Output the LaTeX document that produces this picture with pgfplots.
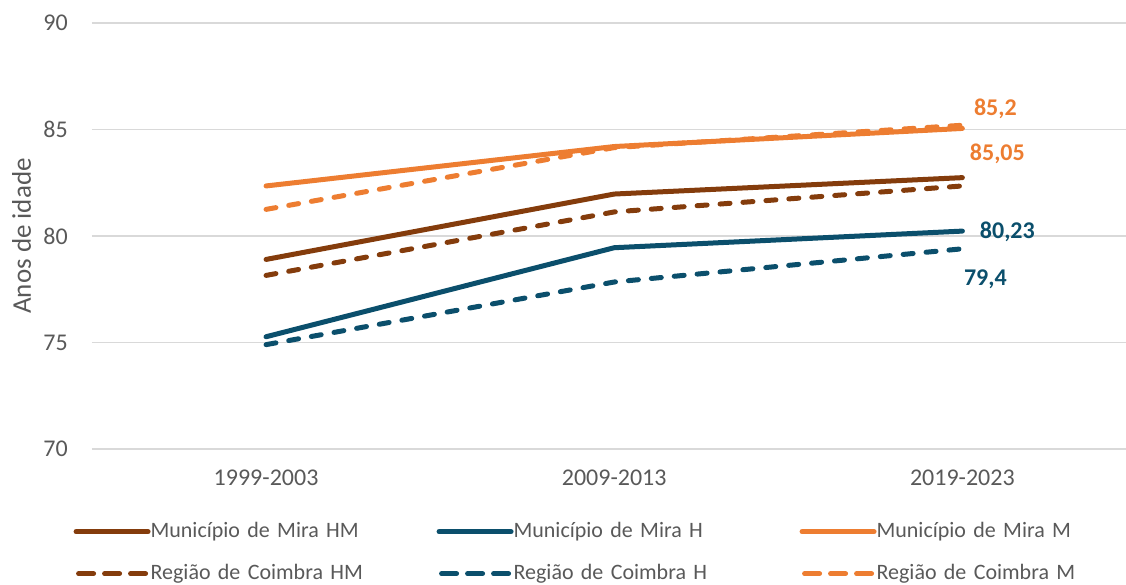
\documentclass[border=0pt]{standalone}
\usepackage{pgfplots}
\pgfplotsset{compat=1.18}
\usepackage{fontspec}
\setmainfont{Carlito}
\definecolor{cbrown}{RGB}{132,60,12}
\definecolor{cteal}{RGB}{11,79,108}
\definecolor{corange}{RGB}{237,125,49}
\definecolor{ctext}{RGB}{89,89,89}
\definecolor{cgrid}{RGB}{217,217,217}
\begin{document}
\begin{tikzpicture}[x=1pt,y=1pt]
\useasboundingbox (0,0) rectangle (1126,584);
\begin{axis}[
  at={(92pt,135pt)}, anchor=south west,
  scale only axis, width=1034pt, height=426pt,
  font=\fontsize{24}{28}\selectfont,
  /pgf/number format/assume math mode=true,
  xmin=-0.5, xmax=2.47, ymin=70, ymax=90,
  xtick={0,1,2}, xticklabels={1999-2003,2009-2013,2019-2023},
  ytick={70,75,80,85,90},
  axis line style={draw=none},
  major tick length=0pt,
  ymajorgrids, grid style={cgrid, line width=1.5pt},
  tick label style={ctext, inner sep=0pt},
  yticklabel style={anchor=east, xshift=-24pt},
  xticklabel style={anchor=north, yshift=-21pt},
  ylabel={Anos de idade},
  ylabel style={at={(axis description cs:-0.068,0.5)}, anchor=center, ctext, font=\fontsize{27}{30}\selectfont},
  clip=false,
  legend columns=3,
  legend style={at={(axis description cs:-0.018,-0.162)}, anchor=north west,
    draw=none, fill=none, inner sep=0pt,
    font=\fontsize{22}{26}\selectfont, text=ctext,
    cells={anchor=west},
    nodes={inner xsep=0pt, inner ysep=3pt, text height=16pt, text depth=5pt, text width=286pt, align=left, xshift=2pt},
    row sep=15pt, column sep=0pt},
  legend image code/.code={\draw[#1] (0pt,0pt) -- (72pt,0pt);},
  every axis plot/.append style={line width=5pt, line cap=round, line join=round},
  dsh/.style={dash pattern=on 10pt off 13pt,
    legend image code/.code={\draw[##1, dash pattern=on 15pt off 11pt] (2.5pt,0pt) -- (69.5pt,0pt);}},
]
\addplot[cbrown] coordinates {(0,78.9) (1,81.97) (2,82.74)};
\addlegendentry{Município de Mira HM}
\addplot[cteal] coordinates {(0,75.27) (1,79.45) (2,80.23)};
\addlegendentry{Município de Mira H}
\addplot[corange] coordinates {(0,82.35) (1,84.2) (2,85.05)};
\addlegendentry{Município de Mira M}
\addplot[cbrown,dsh] coordinates {(0,78.15) (1,81.13) (2,82.35)};
\addlegendentry{Região de Coimbra HM}
\addplot[cteal,dsh] coordinates {(0,74.9) (1,77.84) (2,79.4)};
\addlegendentry{Região de Coimbra H}
\addplot[corange,dsh] coordinates {(0,81.25) (1,84.15) (2,85.2)};
\addlegendentry{Região de Coimbra M}
\node[anchor=base, corange, font=\fontsize{24}{28}\selectfont\bfseries, xshift=33pt, yshift=9.4pt] at (axis cs:2,85.2) {85,2};
\node[anchor=base, corange, font=\fontsize{24}{28}\selectfont\bfseries, xshift=35pt, yshift=-31.6pt] at (axis cs:2,85.05) {85,05};
\node[anchor=base, cteal, font=\fontsize{24}{28}\selectfont\bfseries, xshift=45pt, yshift=-7.6pt] at (axis cs:2,80.23) {80,23};
\node[anchor=base, cteal, font=\fontsize{24}{28}\selectfont\bfseries, xshift=23pt, yshift=-36.6pt] at (axis cs:2,79.4) {79,4};
\end{axis}
\end{tikzpicture}
\end{document}
